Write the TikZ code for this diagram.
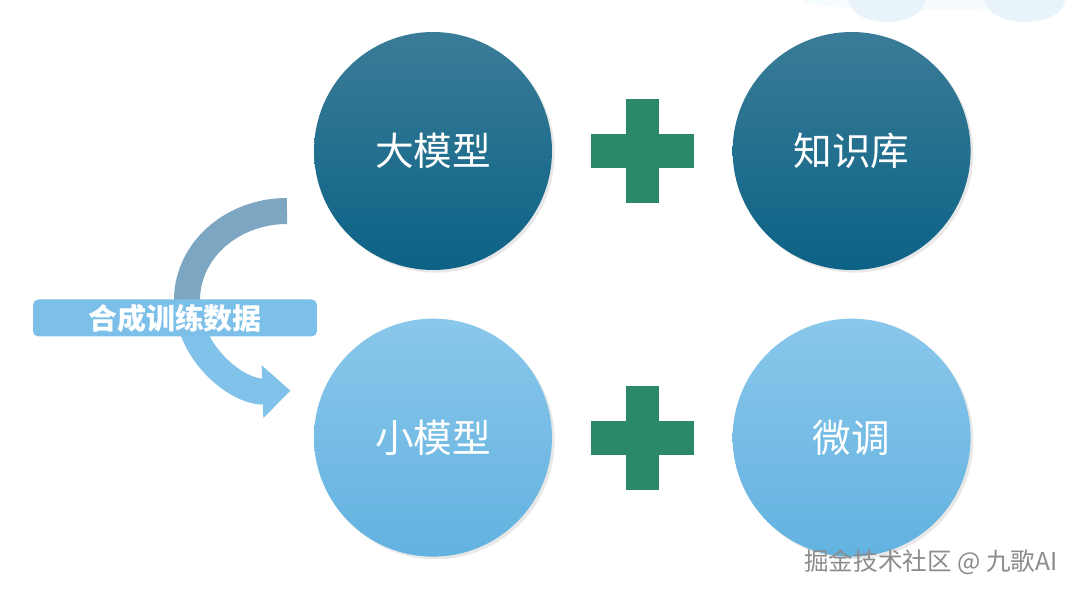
\documentclass[tikz,border=0pt]{standalone}
\usepackage{fontspec}
\newfontfamily\cjk{Noto Sans CJK SC}
\usetikzlibrary{arrows.meta,positioning,shadows}
\definecolor{deepteal}{RGB}{58,124,151}
\definecolor{deeptealbot}{RGB}{12,98,134}
\definecolor{skyblue}{RGB}{138,199,235}
\definecolor{skybluebot}{RGB}{98,178,224}
\definecolor{plusgreen}{RGB}{44,136,106}
\definecolor{arcgrey}{RGB}{124,166,194}
\definecolor{arcsky}{RGB}{128,194,234}
\definecolor{tagblue}{RGB}{124,192,233}
\definecolor{palebg}{RGB}{232,244,250}
\definecolor{markgrey}{RGB}{140,140,140}

\begin{document}
\begin{tikzpicture}[x=0.02cm, y=0.02cm,
    ball/.style={circle, minimum size=4.76cm, inner sep=0pt, text=white,
      font=\cjk\fontsize{22}{26}\selectfont,
      drop shadow={opacity=0.18, shadow xshift=1.5pt, shadow yshift=-1.5pt}},
    bigball/.style={ball, top color=deepteal, bottom color=deeptealbot},
    smallball/.style={ball, top color=skyblue, bottom color=skybluebot},
    hbar/.style={fill=plusgreen, minimum width=2.06cm, minimum height=0.68cm, inner sep=0pt},
    vbar/.style={fill=plusgreen, minimum width=0.66cm, minimum height=2.08cm, inner sep=0pt},
    band/.style={line width=0.52cm},
    tag/.style={fill=tagblue, rounded corners=3pt, minimum width=5.68cm, minimum height=0.74cm,
      inner sep=0pt, text=white, font=\cjk\bfseries\fontsize{16.5}{18}\selectfont},
    watermark/.style={text=markgrey, font=\cjk\fontsize{14}{16}\selectfont}]
    \fill[white] (0,0) rectangle (1080,595);
    \useasboundingbox (0,0) rectangle (1080,595);
    % faint corner shapes
    \begin{scope}
      \clip (0,0) rectangle (1080,595);
      \fill[palebg!40] (932,595) ellipse (130 and 10);
      \fill[palebg] (887,595) ellipse (38 and 22);
      \fill[palebg] (1025,595) ellipse (40 and 22);
    \end{scope}

    \node[bigball] (dm) at (433,444) {大模型};
    \node[bigball, right=3.6cm of dm] (zsk) {知识库};
    \node[smallball, below=0.96cm of dm] (xm) {小模型};
    \node[smallball, below=0.96cm of zsk] (wt) {微调};

    \path (dm) -- (zsk) node[midway, hbar] (plusah) {};
    \node[vbar] (plusav) at (plusah) {};
    \path (xm) -- (wt) node[midway, hbar] (plusbh) {};
    \node[vbar] (plusbv) at (plusbh) {};

    % curved arrow
    \coordinate (arcstart) at (287,384);
    \draw[band, arcgrey] (arcstart) arc[start angle=90, end angle=186, x radius=100, y radius=89]
      coordinate (arcmid);
    \draw[band, arcsky, -{Triangle[width=1.02cm, length=0.56cm]}] (arcmid)
      arc[start angle=186, end angle=272, x radius=100, y radius=91];
    \node[tag] (hc) at (175,277) {合成训练数据};

    \node[watermark] (wm) at (931,33) {掘金技术社区 @ 九歌AI};
\end{tikzpicture}
\end{document}
